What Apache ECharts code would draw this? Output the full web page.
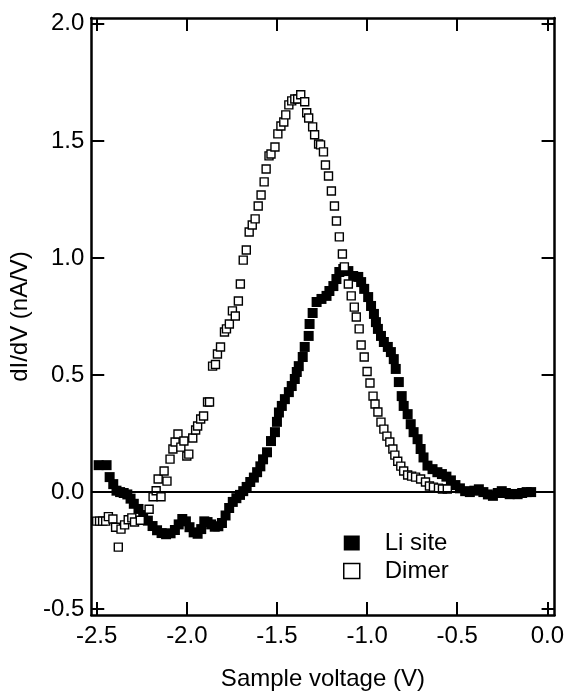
<!DOCTYPE html>
<html>
<head>
<meta charset="utf-8">
<script src="https://cdn.jsdelivr.net/npm/echarts@6/dist/echarts.min.js"></script>
<style>
  html, body { margin: 0; padding: 0; background: #fff; }
  #chart { width: 567px; height: 696px; }
</style>
</head>
<body>
<div id="chart"></div>
<script>
// Li site (filled squares)
var liVoltage = [-2.489, -2.445, -2.428, -2.408, -2.39, -2.37, -2.35, -2.33, -2.312, -2.294,
  -2.268, -2.242, -2.216, -2.19, -2.165, -2.14, -2.115, -2.09, -2.066, -2.045,
  -2.025, -2.005, -1.985, -1.962, -1.94, -1.92, -1.903, -1.885, -1.865, -1.845,
  -1.825, -1.805, -1.785, -1.765, -1.745, -1.725, -1.705, -1.687, -1.668, -1.648,
  -1.628, -1.61, -1.592, -1.577, -1.555, -1.533, -1.511, -1.5, -1.489, -1.473,
  -1.456, -1.434, -1.418, -1.401, -1.39, -1.379, -1.357, -1.346, -1.324, -1.319,
  -1.302, -1.28, -1.253, -1.225, -1.209, -1.187, -1.17, -1.154, -1.132, -1.104,
  -1.077, -1.049, -1.033, -1.016, -0.994, -0.978, -0.962, -0.951, -0.94, -0.923,
  -0.907, -0.885, -0.868, -0.852, -0.841, -0.824, -0.808, -0.797, -0.775, -0.758,
  -0.742, -0.72, -0.703, -0.687, -0.665, -0.637, -0.61, -0.585, -0.56, -0.535,
  -0.51, -0.485, -0.456, -0.43, -0.405, -0.38, -0.355, -0.33, -0.302, -0.275,
  -0.253, -0.23, -0.209, -0.185, -0.165, -0.14, -0.115, -0.09];
var liDidv = [0.115, 0.115, 0.064, 0.034, 0.006, 0.0, -0.004, -0.01, -0.028, -0.05,
  -0.072, -0.098, -0.122, -0.145, -0.163, -0.175, -0.18, -0.176, -0.162, -0.138,
  -0.115, -0.125, -0.15, -0.172, -0.178, -0.158, -0.125, -0.128, -0.138, -0.148,
  -0.146, -0.132, -0.1, -0.068, -0.042, -0.026, -0.012, 0.004, 0.022, 0.043,
  0.062, 0.085, 0.11, 0.14, 0.17, 0.218, 0.256, 0.3, 0.34, 0.368,
  0.397, 0.427, 0.453, 0.483, 0.513, 0.538, 0.577, 0.62, 0.667, 0.718,
  0.765, 0.812, 0.825, 0.838, 0.859, 0.88, 0.91, 0.94, 0.953, 0.944,
  0.923, 0.919, 0.897, 0.868, 0.833, 0.795, 0.761, 0.726, 0.697, 0.667,
  0.641, 0.62, 0.598, 0.568, 0.526, 0.47, 0.41, 0.368, 0.333, 0.29,
  0.256, 0.226, 0.184, 0.148, 0.113, 0.098, 0.085, 0.077, 0.066, 0.05,
  0.03, 0.016, 0.004, 0.0, 0.006, 0.012, 0.0, -0.01, -0.016, -0.004,
  0.004, -0.004, -0.009, -0.008, -0.009, -0.004, 0.0, 0.0];

// Dimer (open squares)
var dimerVoltage = [-2.5, -2.484, -2.467, -2.45, -2.435, -2.41, -2.395, -2.38, -2.365, -2.345,
  -2.325, -2.305, -2.29, -2.258, -2.209, -2.187, -2.17, -2.159, -2.143, -2.126,
  -2.11, -2.093, -2.077, -2.065, -2.049, -2.033, -2.016, -2.0, -1.989, -1.967,
  -1.951, -1.94, -1.923, -1.907, -1.885, -1.874, -1.857, -1.841, -1.83, -1.813,
  -1.791, -1.78, -1.764, -1.747, -1.731, -1.714, -1.703, -1.687, -1.67, -1.654,
  -1.637, -1.621, -1.604, -1.588, -1.571, -1.56, -1.544, -1.533, -1.511, -1.495,
  -1.478, -1.462, -1.451, -1.434, -1.418, -1.401, -1.385, -1.368, -1.346, -1.335,
  -1.324, -1.302, -1.291, -1.269, -1.258, -1.242, -1.231, -1.214, -1.198, -1.181,
  -1.17, -1.154, -1.137, -1.126, -1.104, -1.088, -1.071, -1.06, -1.044, -1.033,
  -1.016, -1.0, -0.984, -0.967, -0.956, -0.94, -0.923, -0.907, -0.89, -0.874,
  -0.857, -0.846, -0.83, -0.813, -0.797, -0.775, -0.753, -0.731, -0.703, -0.676,
  -0.654, -0.632, -0.604, -0.582, -0.555];
var dimerDidv = [-0.124, -0.124, -0.124, -0.124, -0.105, -0.115, -0.15, -0.235, -0.158, -0.14,
  -0.118, -0.11, -0.128, -0.12, -0.073, -0.02, 0.006, 0.056, -0.02, 0.09,
  0.047, 0.141, 0.184, 0.214, 0.248, 0.192, 0.218, 0.154, 0.162, 0.231,
  0.265, 0.282, 0.312, 0.325, 0.385, 0.385, 0.538, 0.545, 0.59, 0.62,
  0.684, 0.697, 0.718, 0.774, 0.752, 0.816, 0.889, 0.991, 1.034, 1.111,
  1.141, 1.167, 1.222, 1.269, 1.325, 1.38, 1.436, 1.444, 1.474, 1.53,
  1.564, 1.581, 1.611, 1.654, 1.671, 1.679, 1.679, 1.697, 1.667, 1.62,
  1.598, 1.56, 1.526, 1.487, 1.483, 1.453, 1.397, 1.35, 1.286, 1.222,
  1.158, 1.09, 1.017, 0.962, 0.889, 0.838, 0.79, 0.748, 0.697, 0.628,
  0.577, 0.515, 0.466, 0.41, 0.376, 0.342, 0.299, 0.269, 0.239, 0.214,
  0.184, 0.158, 0.132, 0.111, 0.09, 0.073, 0.068, 0.064, 0.056, 0.043,
  0.026, 0.021, 0.017, 0.013, 0.013];

var xTicks = [-2.5, -2.0, -1.5, -1.0, -0.5, 0.0];
var yTicks = [-0.5, 0.0, 0.5, 1.0, 1.5, 2.0];

function zip(xs, ys) {
    var res = [];
    for (var i = 0; i < xs.length; i++) {
        res.push([xs[i], ys[i]]);
    }
    return res;
}

var FONT = 'Liberation Sans';
var axisLine = { show: true, onZero: false, lineStyle: { color: '#000', width: 2.5 } };

function xAxisOpt(pos, withLabels) {
    return {
        type: 'value',
        position: pos,
        min: -2.53,
        max: 0.04,
        axisLine: axisLine,
        axisTick: { show: true, inside: true, length: 13, customValues: xTicks, lineStyle: { color: '#000', width: 2 } },
        axisLabel: {
            show: withLabels,
            customValues: xTicks,
            margin: 9,
            color: '#000',
            fontFamily: FONT,
            fontSize: 24,
            formatter: function (v) { return v.toFixed(1); }
        },
        splitLine: { show: false },
        name: withLabels ? 'Sample voltage (V)' : '',
        nameLocation: 'middle',
        nameGap: 52,
        nameTextStyle: { color: '#000', fontFamily: FONT, fontSize: 24 }
    };
}

function yAxisOpt(pos, withLabels) {
    return {
        type: 'value',
        position: pos,
        min: -0.525,
        max: 2.025,
        axisLine: axisLine,
        axisTick: { show: true, inside: true, length: 13, customValues: yTicks, lineStyle: { color: '#000', width: 2 } },
        axisLabel: {
            show: withLabels,
            customValues: yTicks,
            margin: 7,
            color: '#000',
            fontFamily: FONT,
            fontSize: 24,
            formatter: function (v) { return v.toFixed(1); }
        },
        splitLine: { show: false },
        name: withLabels ? 'dI/dV (nA/V)' : '',
        nameLocation: 'middle',
        nameGap: 46,
        nameTextStyle: { color: '#000', fontFamily: FONT, fontSize: 24 }
    };
}

var myChart = echarts.init(document.getElementById('chart'), null, { renderer: 'canvas' });

var option = {
    backgroundColor: '#fff',
    animation: false,
    grid: { left: 88, right: 12, top: 18, bottom: 79 },
    legend: {
        orient: 'vertical',
        left: 338,
        top: 526,
        icon: 'rect',
        itemWidth: 16,
        itemHeight: 15,
        itemGap: 4,
        textStyle: { color: '#000', fontFamily: FONT, fontSize: 24, padding: [0, 0, 0, 20] },
        data: [
            { name: 'Li site', itemStyle: { color: '#000', borderWidth: 0 } },
            { name: 'Dimer', itemStyle: { color: '#fff', borderColor: '#000', borderWidth: 1.5 } }
        ]
    },
    xAxis: [xAxisOpt('bottom', true), xAxisOpt('top', false)],
    yAxis: [yAxisOpt('left', true), yAxisOpt('right', false)],
    series: [
        {
            name: 'Li site',
            type: 'scatter',
            symbol: 'rect',
            symbolSize: 10,
            itemStyle: { color: '#000', opacity: 1 },
            data: zip(liVoltage, liDidv),
            markLine: {
                silent: true,
                symbol: ['none', 'none'],
                label: { show: false },
                lineStyle: { color: '#000', type: 'solid', width: 2 },
                data: [{ yAxis: 0 }]
            }
        },
        {
            name: 'Dimer',
            type: 'scatter',
            symbol: 'rect',
            symbolSize: 8,
            itemStyle: { color: '#fff', borderColor: '#000', borderWidth: 1.4, opacity: 1 },
            data: zip(dimerVoltage, dimerDidv)
        }
    ]
};

myChart.setOption(option);
</script>
</body>
</html>
